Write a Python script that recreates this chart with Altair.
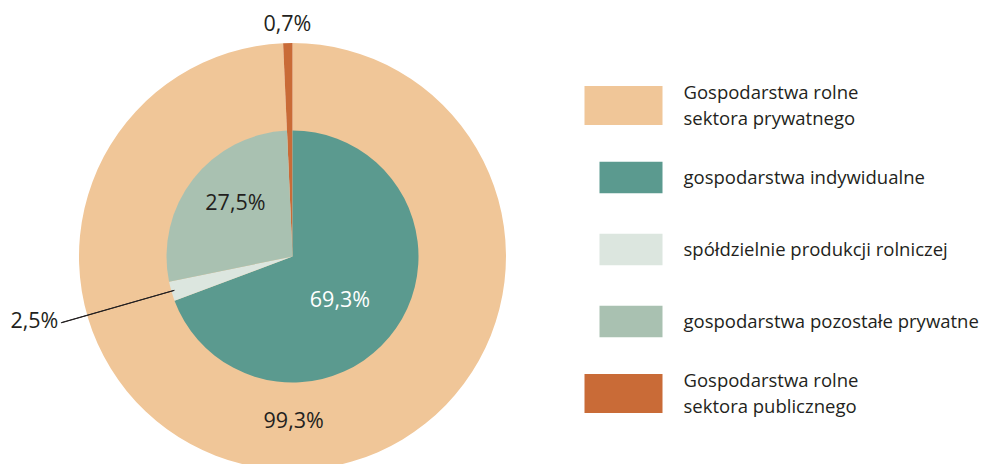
import math
import altair as alt
import pandas as pd

# ---- data ----
categories = [
    "Gospodarstwa rolne sektora prywatnego",
    "gospodarstwa indywidualne",
    "spółdzielnie produkcji rolniczej",
    "gospodarstwa pozostałe prywatne",
    "Gospodarstwa rolne sektora publicznego",
]
legend_labels = [
    "Gospodarstwa rolne\nsektora prywatnego",
    "gospodarstwa indywidualne",
    "spółdzielnie produkcji rolniczej",
    "gospodarstwa pozostałe prywatne",
    "Gospodarstwa rolne\nsektora publicznego",
]
values = [99.3, 69.3, 2.5, 27.5, 0.7]
value_labels = ["99,3%", "69,3%", "2,5%", "27,5%", "0,7%"]
rings = ["outer", "inner", "inner", "inner", "outer"]
colors = ["#F0C698", "#5B9A8F", "#DCE6DF", "#A9C1B1", "#C96B37"]

df = pd.DataFrame({
    "category": categories,
    "legend": legend_labels,
    "value": values,
    "vlabel": value_labels,
    "ring": rings,
    "order": list(range(len(categories))),
})

FONT = "Open Sans"
TXT = "#231F20"
CX, CY = 284.5, 248.5

theta_scale = alt.Scale(domain=[0, 100], range=[0, 2 * math.pi])
color = alt.Color("category:N", scale=alt.Scale(domain=categories, range=colors), legend=None)

base = alt.Chart(df)
prep = base.transform_window(
    cum="sum(value)", frame=[None, 0], sort=[alt.SortField("order")], groupby=["ring"]
).transform_calculate(
    start="datum.cum - datum.value",
    mid="datum.cum - datum.value / 2",
    mid2="datum.cum - datum.value / 2 + 0.02",
)

outer = prep.transform_filter(alt.datum.ring == "outer").mark_arc(radius=213.5).encode(
    theta=alt.Theta("start:Q", scale=theta_scale, stack=False),
    theta2=alt.Theta2("cum:Q"),
    color=color,
    x=alt.value(CX), y=alt.value(CY),
)
inner = prep.transform_filter(alt.datum.ring == "inner").mark_arc(radius=126).encode(
    theta=alt.Theta("start:Q", scale=theta_scale, stack=False),
    theta2=alt.Theta2("cum:Q"),
    color=color,
    x=alt.value(CX), y=alt.value(CY),
)
leader = prep.transform_filter(alt.datum.category == categories[2]).mark_arc(
    radius=240.5, radius2=123, filled=False, stroke=TXT, strokeWidth=1
).encode(
    theta=alt.Theta("mid:Q", scale=theta_scale, stack=False),
    theta2=alt.Theta2("mid2:Q"),
    x=alt.value(CX), y=alt.value(CY),
)


def value_label(i, r, dx=0, dy=0, col=TXT):
    return prep.transform_filter(alt.datum.category == categories[i]).mark_text(
        radius=r, dx=dx, dy=dy, font=FONT, fontSize=21.5, color=col,
        align="center", baseline="middle",
    ).encode(
        theta=alt.Theta("mid:Q", scale=theta_scale, stack=False),
        text="vlabel:N",
        x=alt.value(CX), y=alt.value(CY),
    )


labels = [
    value_label(0, 166, dx=-2.5),
    value_label(1, 65, dx=-6, dy=7.5, col="#FFFFFF"),
    value_label(2, 266.5, dx=-2, dy=-8),
    value_label(3, 77.5, dx=4, dy=-5),
    value_label(4, 232),
]

ypos = alt.Y("category:N", sort=categories, scale=alt.Scale(range=[97.5, 385.5], padding=0), axis=None)

leg_rect = base.mark_point(
    shape="M-2,-0.5H0V0.5H-2Z", filled=True, opacity=1, strokeWidth=0
).encode(
    x=alt.value(654.5),
    y=ypos,
    color=color,
    size=alt.when(alt.datum.ring == "outer").then(alt.value(6084)).otherwise(alt.value(3969)),
)


def legend_text(filter_expr, dy):
    return base.transform_filter(filter_expr).mark_text(
        align="left", baseline="middle", lineBreak="\n", lineHeight=25.5,
        font=FONT, fontSize=18.5, color=TXT, dy=dy,
    ).encode(
        x=alt.value(675.5),
        y=alt.Y("category:N", sort=categories, axis=None),
        text="legend:N",
    )


leg_text_one = legend_text("indexof(datum.legend, '\\n') < 0", 0)
leg_text_two = legend_text("indexof(datum.legend, '\\n') >= 0", -12.5)

chart = alt.layer(outer, inner, leader, *labels, leg_rect, leg_text_one, leg_text_two).properties(
    width=973, height=456, padding=0, autosize=alt.AutoSizeParams(type="none"),
).configure_view(strokeWidth=0)

chart.save("out.html", embed_options={"renderer": "svg", "actions": False})
